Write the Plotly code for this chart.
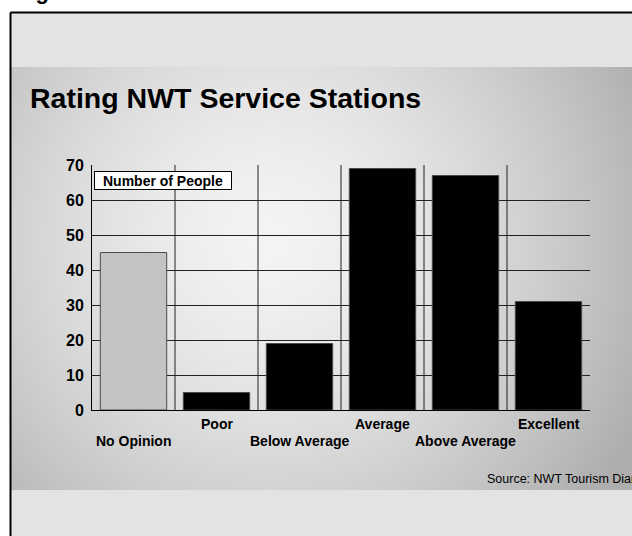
import struct
import zlib
import base64

import numpy as np
import plotly.graph_objects as go

# ---- data ----
categories = ["No Opinion", "Poor", "Below Average", "Average", "Above Average", "Excellent"]
people = [45, 5, 19, 69, 67, 31]
bar_colors = ["#c4c4c4", "#000000", "#000000", "#000000", "#000000", "#000000"]
y_ticks = [0, 10, 20, 30, 40, 50, 60, 70]

W, H = 632, 536
FONT = "Liberation Sans, Arial, Helvetica, sans-serif"


def px_x(v):
    return v / W


def px_y(v):
    return 1 - v / H


def gray_png_uri(img):
    """Encode a 2-D uint8 array as an 8-bit grayscale PNG data URI."""
    h, w = img.shape
    raw = b"".join(b"\x00" + img[r].tobytes() for r in range(h))

    def chunk(tag, data):
        return (struct.pack(">I", len(data)) + tag + data
                + struct.pack(">I", zlib.crc32(tag + data) & 0xFFFFFFFF))

    png = (b"\x89PNG\r\n\x1a\n"
           + chunk(b"IHDR", struct.pack(">IIBBBBB", w, h, 8, 0, 0, 0, 0))
           + chunk(b"IDAT", zlib.compress(raw, 9))
           + chunk(b"IEND", b""))
    return "data:image/png;base64," + base64.b64encode(png).decode()


# radial grey backdrop of the slide panel
PX0, PY0, PX1, PY1 = 11, 67, 632, 490
gx, gy = np.meshgrid(np.arange(PX0, PX1) + 0.5, np.arange(PY0, PY1) + 0.5)
dist = np.hypot(gx - 270, gy - 240) / 380.0
shade = np.clip(244 - 62 * dist ** 1.5, 174, 250).astype(np.uint8)
panel_uri = gray_png_uri(shade)

fig = go.Figure()
fig.add_trace(go.Bar(
    x=list(range(len(categories))),
    y=people,
    width=0.8,
    marker=dict(color=bar_colors, line=dict(color="#4a4a4a", width=1)),
    showlegend=False,
    hoverinfo="skip",
))

shapes = []
# light grey card behind the panel, with its black top/left edge
shapes.append(dict(type="rect", xref="paper", yref="paper", layer="below",
                   x0=px_x(11), x1=px_x(632), y0=px_y(13), y1=px_y(67),
                   fillcolor="#e3e3e3", line=dict(width=0)))
shapes.append(dict(type="rect", xref="paper", yref="paper", layer="below",
                   x0=px_x(11), x1=px_x(632), y0=px_y(490), y1=px_y(536),
                   fillcolor="#e3e3e3", line=dict(width=0)))
shapes.append(dict(type="line", xref="paper", yref="paper",
                   x0=px_x(10.5), x1=px_x(640), y0=px_y(12.5), y1=px_y(12.5),
                   line=dict(color="#000000", width=2)))
shapes.append(dict(type="line", xref="paper", yref="paper",
                   x0=px_x(10.5), x1=px_x(10.5), y0=px_y(12.5), y1=px_y(540),
                   line=dict(color="#000000", width=2)))
# vertical separators between categories
for i in range(len(categories) - 1):
    shapes.append(dict(type="line", xref="x", yref="y", layer="below",
                       x0=i + 0.5, x1=i + 0.5, y0=0, y1=y_ticks[-1],
                       line=dict(color="#222222", width=1)))

annotations = []
annotations.append(dict(text="Figure", xref="paper", yref="paper",
                        x=px_x(14), y=px_y(6), xanchor="left", yanchor="bottom",
                        showarrow=False,
                        font=dict(family=FONT, size=22, color="#000000", weight="bold")))
annotations.append(dict(text="Rating NWT Service Stations", xref="paper", yref="paper",
                        x=px_x(28), y=px_y(98), xanchor="left", yanchor="middle",
                        showarrow=False,
                        font=dict(family=FONT, size=28.5, color="#000000", weight="bold")))
annotations.append(dict(text="Number of People", xref="paper", yref="paper",
                        x=px_x(94), y=px_y(171), xanchor="left", yanchor="top",
                        width=136, height=17, align="center",
                        showarrow=False, bgcolor="#ffffff", bordercolor="#000000",
                        borderwidth=1, borderpad=0,
                        font=dict(family=FONT, size=14, color="#000000", weight="bold")))
# staggered category labels
for i, name in enumerate(categories):
    row_y = 424 if i % 2 == 1 else 441
    annotations.append(dict(text=name, xref="x", yref="paper",
                            x=i, y=px_y(row_y), xanchor="center", yanchor="middle",
                            showarrow=False,
                            font=dict(family=FONT, size=14, color="#000000", weight="bold")))
annotations.append(dict(text="Source: NWT Tourism Diary", xref="paper", yref="paper",
                        x=px_x(485), y=px_y(479), xanchor="left", yanchor="middle",
                        showarrow=False,
                        font=dict(family=FONT, size=12.5, color="#000000")))

fig.update_layout(
    width=W, height=H,
    margin=dict(l=0, r=0, t=0, b=0, autoexpand=False),
    paper_bgcolor="#ffffff",
    plot_bgcolor="rgba(0,0,0,0)",
    bargap=0.2,
    shapes=shapes,
    annotations=annotations,
    images=[dict(source=panel_uri, xref="paper", yref="paper",
                 x=px_x(PX0), y=px_y(PY0), sizex=(PX1 - PX0) / W, sizey=(PY1 - PY0) / H,
                 xanchor="left", yanchor="top", sizing="stretch", layer="below")],
    xaxis=dict(domain=[px_x(92), px_x(590)], range=[-0.5, len(categories) - 0.5],
               showticklabels=False, showgrid=False, zeroline=False,
               showline=True, linecolor="#000000", linewidth=1, ticks=""),
    yaxis=dict(domain=[px_y(410), px_y(165)], range=[0, y_ticks[-1]],
               tickvals=y_ticks, ticks="", showline=True, linecolor="#000000", linewidth=1,
               showgrid=True, gridcolor="#222222", gridwidth=1, zeroline=False,
               ticklabelstandoff=4,
               tickfont=dict(family=FONT, size=16, color="#000000", weight="bold")),
)

fig.write_html(
    "out.html",
    post_script="document.body.style.margin='0';document.body.style.overflow='hidden';",
)
